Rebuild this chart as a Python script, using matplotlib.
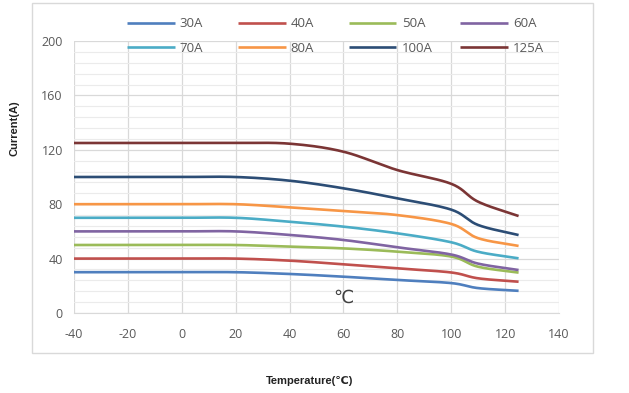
import numpy as np
import matplotlib
matplotlib.use("Agg")
import matplotlib.pyplot as plt
from matplotlib.patches import Rectangle
from matplotlib.ticker import MultipleLocator

plt.rcParams["axes.unicode_minus"] = False

# ---- data ----
temps = [-40, -20, 0, 20, 40, 60, 80, 100, 110, 125]
labels = ["30A", "40A", "50A", "60A", "70A", "80A", "100A", "125A"]
i30 = [30, 30, 30, 30, 28.7, 26.7, 24.3, 22.0, 18.3, 16.3]
i40 = [40, 40, 40, 40, 38.5, 35.8, 32.8, 29.8, 25.5, 23.0]
i50 = [50, 50, 50, 50, 48.8, 47.5, 45.1, 41.5, 34.0, 29.7]
i60 = [60, 60, 60, 60, 57.4, 53.7, 48.3, 43.0, 36.3, 31.6]
i70 = [70, 70, 70, 70, 67.1, 63.5, 58.6, 52.0, 45.0, 40.2]
i80 = [80, 80, 80, 80, 77.7, 75.0, 72.0, 65.5, 55.0, 49.3]
i100 = [100, 100, 100, 100, 97.3, 91.7, 84.3, 76.0, 64.7, 57.3]
i125 = [125, 125, 125, 125, 124.5, 118.6, 105.1, 95.0, 81.8, 71.3]
series = [i30, i40, i50, i60, i70, i80, i100, i125]
colors = ["#4F7FBE", "#C0504D", "#9BBB59", "#8064A2",
          "#4BACC6", "#F79646", "#2C4D75", "#7B3535"]
xticks = [-40, -20, 0, 20, 40, 60, 80, 100, 120, 140]
yticks = [0, 40, 80, 120, 160, 200]


def smooth(x, y, n=20):
    """Catmull-Rom style smoothing (like Excel's smoothed line)."""
    x = np.asarray(x, float)
    y = np.asarray(y, float)
    px = np.concatenate([[2 * x[0] - x[1]], x, [2 * x[-1] - x[-2]]])
    py = np.concatenate([[2 * y[0] - y[1]], y, [2 * y[-1] - y[-2]]])
    xs, ys = [], []
    t = np.linspace(0, 1, n, endpoint=False)
    for i in range(1, len(px) - 2):
        p0, p1, p2, p3 = (np.array([px[j], py[j]]) for j in (i - 1, i, i + 1, i + 2))
        b0 = p1
        b1 = p1 + (p2 - p0) / 6.0
        b2 = p2 - (p3 - p1) / 6.0
        b3 = p2
        tt = t[:, None]
        pts = ((1 - tt) ** 3) * b0 + 3 * ((1 - tt) ** 2) * tt * b1 + 3 * (1 - tt) * tt ** 2 * b2 + tt ** 3 * b3
        xs.extend(pts[:, 0]); ys.extend(pts[:, 1])
    xs.append(x[-1]); ys.append(y[-1])
    return np.array(xs), np.array(ys)


W, H = 629, 393
fig = plt.figure(figsize=(W / 100, H / 100), dpi=100)
fig.patch.set_facecolor("white")

# chart frame
fig.add_artist(Rectangle((32 / W, 1 - 353 / H), (593 - 32) / W, (353 - 3) / H,
                         transform=fig.transFigure, fill=False,
                         edgecolor="#D9D9D9", linewidth=1.0))

ax = fig.add_axes([74 / W, 1 - 313 / H, (559 - 74) / W, (313 - 41) / H])
ax.set_xlim(-40, 140)
ax.set_ylim(0, 200)
ax.set_xticks(xticks)
ax.set_yticks(yticks)
ax.yaxis.set_minor_locator(MultipleLocator(8))
ax.grid(True, which="major", color="#D9D9D9", linewidth=0.9)
ax.grid(True, which="minor", axis="y", color="#EBEBEB", linewidth=0.8)
ax.set_axisbelow(True)
for side in ["top", "right", "left"]:
    ax.spines[side].set_visible(False)
ax.spines["bottom"].set_color("#D9D9D9")
ax.tick_params(axis="both", which="both", length=0, colors="#595959", labelsize=9)
ax.tick_params(axis="x", pad=11)
ax.tick_params(axis="y", pad=8)
for lab in ax.get_xticklabels() + ax.get_yticklabels():
    lab.set_fontfamily(["Open Sans", "DejaVu Sans"])

handles = []
for lab, ys, c in zip(labels, series, colors):
    sx, sy = smooth(temps, ys)
    h, = ax.plot(sx, sy, color=c, linewidth=1.9, label=lab, solid_capstyle="butt")
    handles.append(h)

# legend: 4 columns x 2 rows, equally spaced columns
for col in range(4):
    idx = [col, col + 4]
    leg = fig.legend([handles[i] for i in idx], [labels[i] for i in idx],
                     ncol=1, loc="center left",
                     bbox_to_anchor=((127 + 111 * col) / W, 1 - 36 / H),
                     bbox_transform=fig.transFigure, frameon=False,
                     borderpad=0, borderaxespad=0,
                     handlelength=3.6, handletextpad=0.4,
                     labelspacing=0.85,
                     prop={"family": ["Open Sans", "DejaVu Sans"], "size": 9.5})
    for t in leg.get_texts():
        t.set_color("#595959")

ax.text(60, 11, "℃", fontsize=13, color="#404040", ha="center", va="center",
        family=["DejaVu Sans"])

fig.text(15 / W, 1 - 128 / H, "Current(A)", rotation=90, ha="center", va="center",
         fontsize=8, fontweight="bold", color="#222222",
         family=["Liberation Sans Narrow", "Liberation Sans", "DejaVu Sans"])
fig.text(310 / W, 1 - 381 / H, "Temperature(℃)", ha="center", va="center",
         fontsize=8, fontweight="bold", color="#222222",
         family=["Liberation Sans Narrow", "Liberation Sans", "DejaVu Sans"])

fig.savefig("out.png", dpi=100, facecolor="white")
